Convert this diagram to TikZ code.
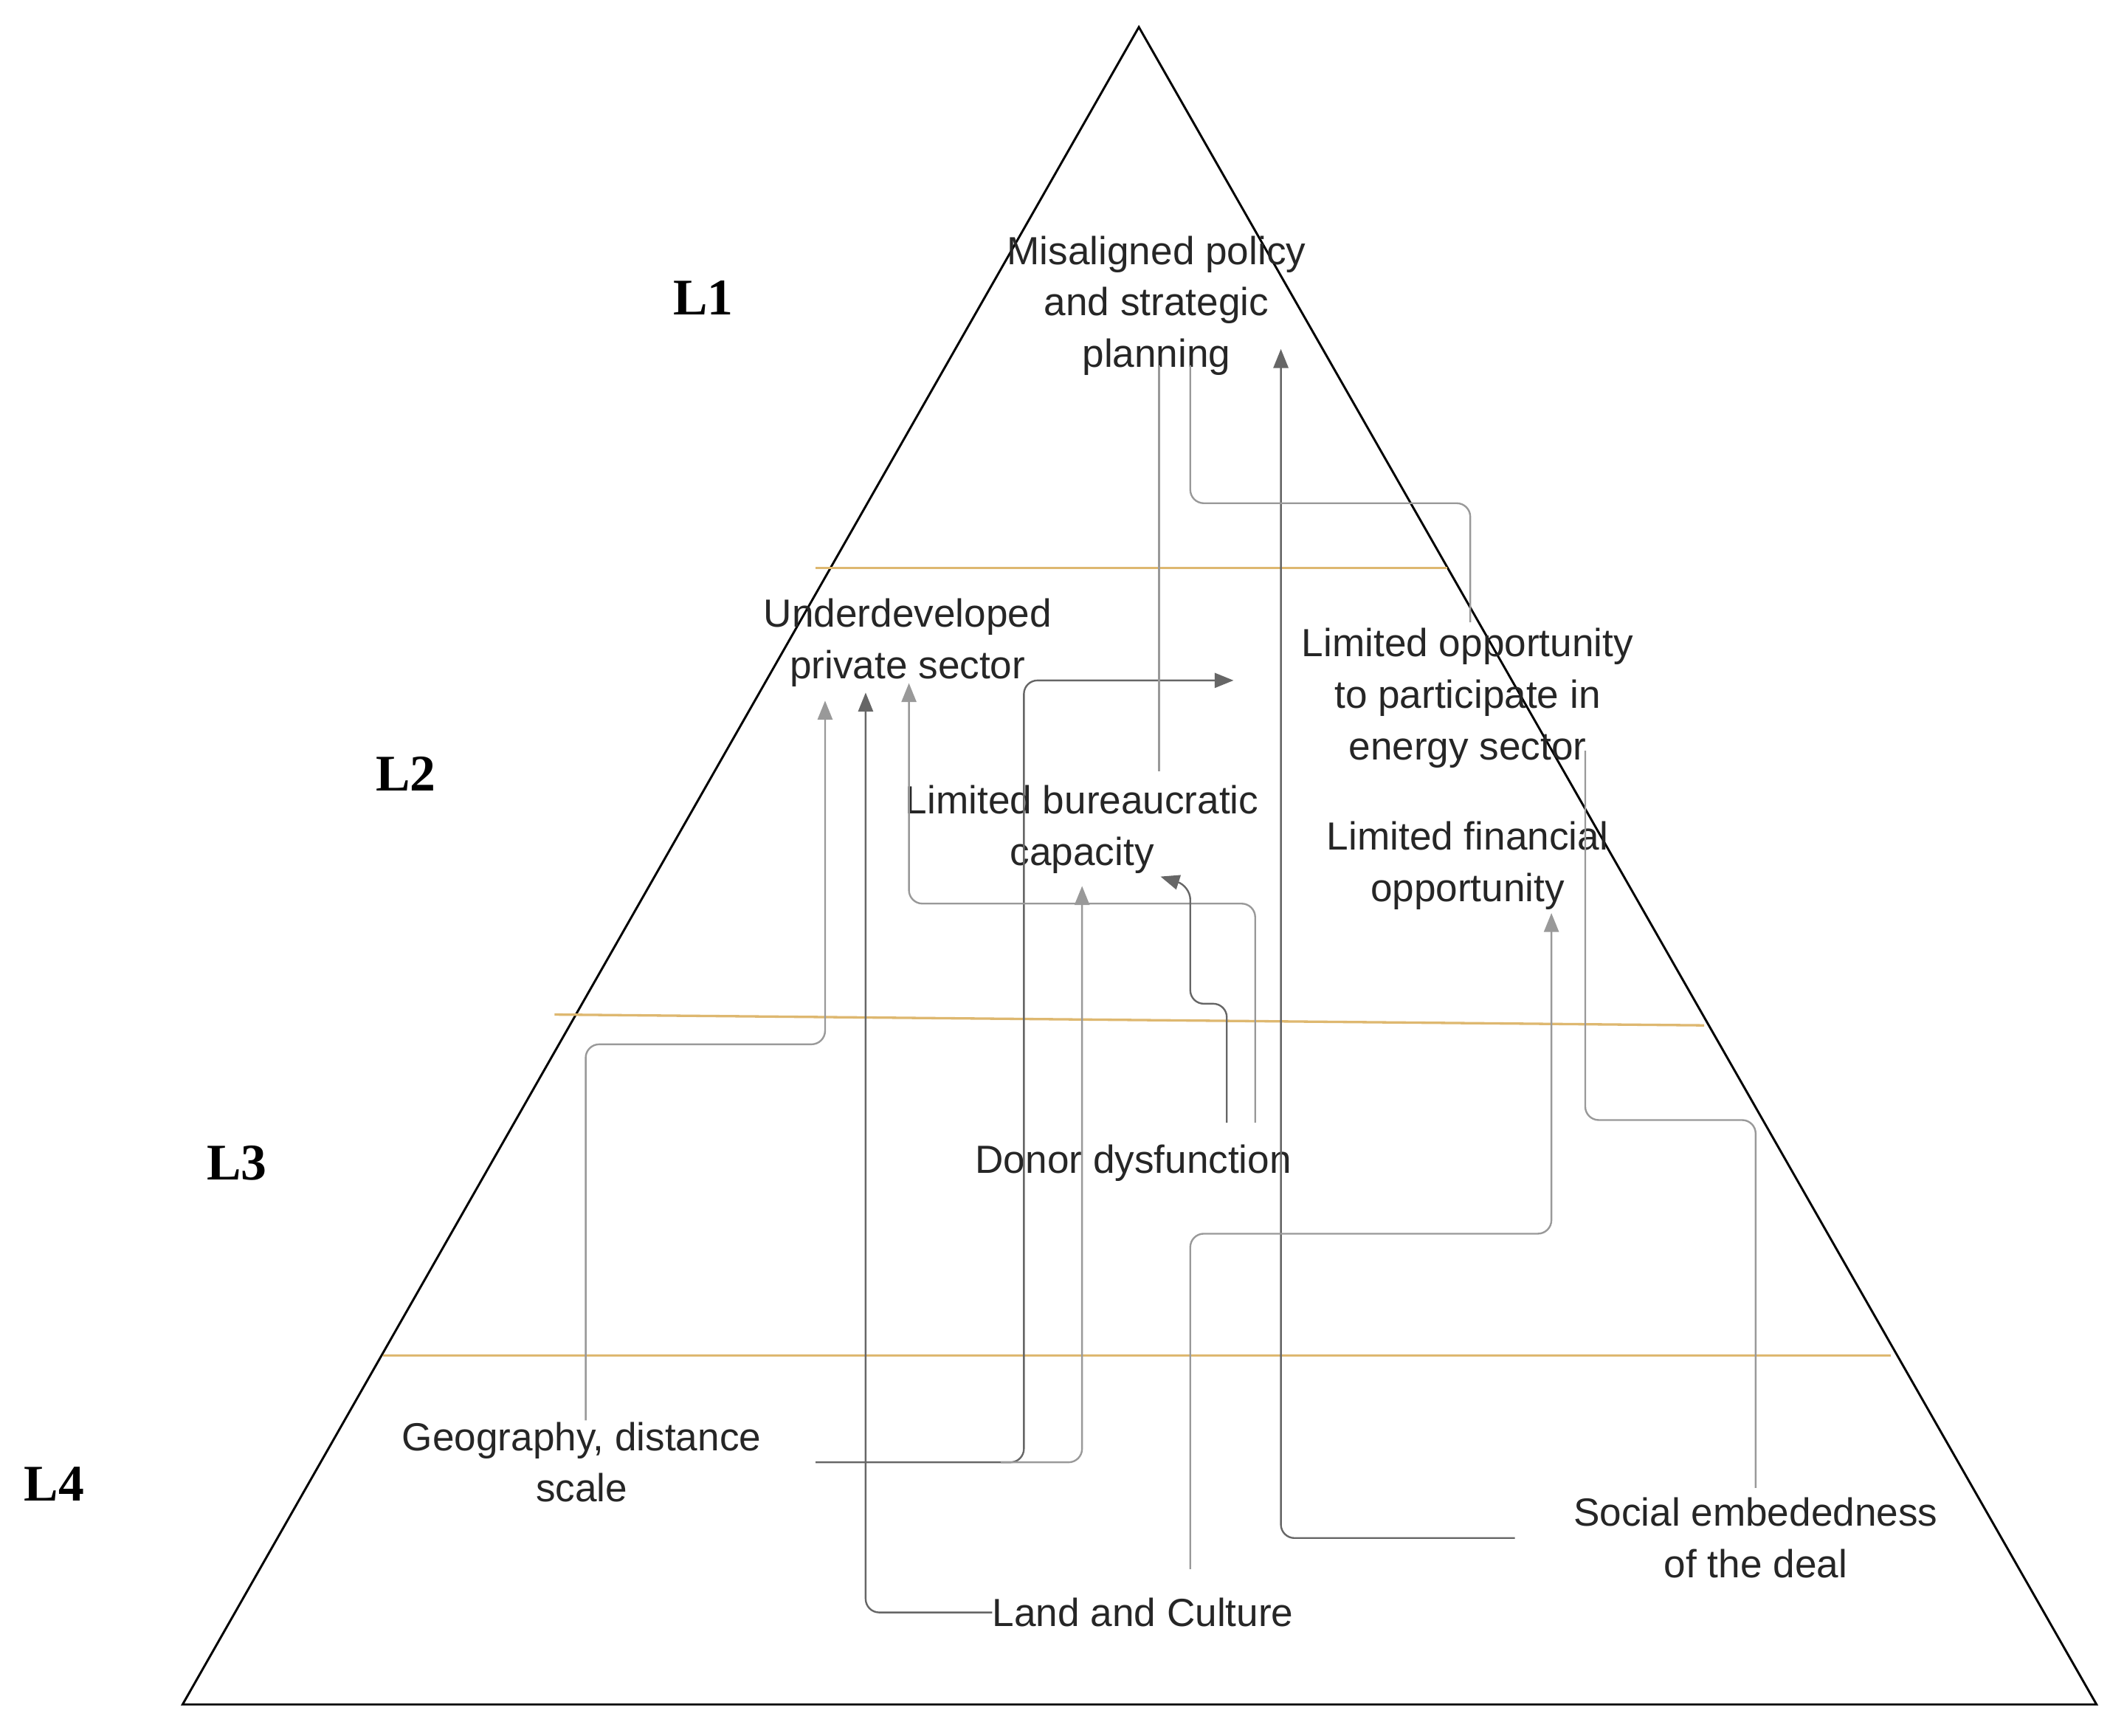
\documentclass[tikz,border=0pt]{standalone}
\usepackage{fontspec}
\setmainfont{Liberation Serif}
\newfontfamily\lab{Liberation Sans}
\usetikzlibrary{arrows.meta}
\begin{document}
\begin{tikzpicture}[x=1pt,y=-1pt,
 txt/.style={font=\lab\fontsize{29}{38}\selectfont,align=center,text=black!85,inner sep=0pt},
 lvl/.style={font=\bfseries\fontsize{38}{40}\selectfont},
 dk/.style={draw=black!60,line width=1.3pt,rounded corners=10pt},
 lt/.style={draw=black!40,line width=1.3pt,rounded corners=10pt},
 arr/.style={-{Triangle[length=14pt,width=11pt]}},
 band/.style={draw={rgb,255:red,222;green,184;blue,112},line width=1.8pt}]
\useasboundingbox (0,0) rectangle (1560,1283);
\fill[white] (0,0) rectangle (1560,1283);
\draw[line width=1.6pt] (842,20) -- (135,1260) -- (1550,1260) -- cycle;
\draw[band] (603,420) -- (1070,420);
\draw[band] (410,750) -- (1260,758);
\draw[band] (283,1002) -- (1398,1002);
\node[lvl] (l1) at (520,220) {L1};
\node[lvl] (l2) at (300,572) {L2};
\node[lvl] (l3) at (175,860) {L3};
\node[lvl] (l4) at (40,1097) {L4};
\node[txt] (mis) at (855,226) {Misaligned policy\\and strategic\\planning};
\node[txt] (und) at (671,475) {Underdeveloped\\private sector};
\node[txt] (lop) at (1085,516) {Limited opportunity\\to participate in\\energy sector};
\node[txt] (lbc) at (800,613) {Limited bureaucratic\\capacity};
\node[txt] (lfo) at (1085,640) {Limited financial\\opportunity};
\node[txt] (don) at (838,860) {Donor dysfunction};
\node[txt] (geo) at (430,1081) {Geography, distance\\scale};
\node[txt] (soc) at (1298,1137) {Social embededness\\of the deal};
\node[txt] (land) at (845,1192) {Land and Culture};
\coordinate (a1) at (610,518);
\coordinate (a2) at (640,512);
\coordinate (a3) at (672,505);
\coordinate (a4) at (912,503);
\coordinate (a5) at (800,655);
\coordinate (a6) at (858,648);
\coordinate (a7) at (947,258);
\coordinate (a8) at (1147,675);
\coordinate (m1) at (857,270);
\coordinate (m2) at (880,270);
\path[lt,arr] (433,1050) -- (433,772) -- (610,772) -- (a1);
\path[dk,arr] (land.west) -- (640,1192) -- (a2);
\path[dk,arr] (603,1081) -- (757,1081) -- (757,503) -- (a4);
\path[lt,arr] (740,1081) -- (800,1081) -- (a5);
\path[lt,arr] (928,830) -- (928,668) -- (672,668) -- (a3);
\path[dk,arr] (907,830) -- (907,742) -- (880,742) -- (880,655) -- (a6);
\path[lt] (857,570) -- (m1);
\path[dk,arr] (1120,1137) -- (947,1137) -- (a7);
\path[lt,arr] (880,1160) -- (880,912) -- (1147,912) -- (a8);
\path[lt] (1298,1100) -- (1298,828) -- (1172,828) -- (1172,555);
\path[lt] (1087,460) -- (1087,372) -- (880,372) -- (m2);
\end{tikzpicture}
\end{document}
